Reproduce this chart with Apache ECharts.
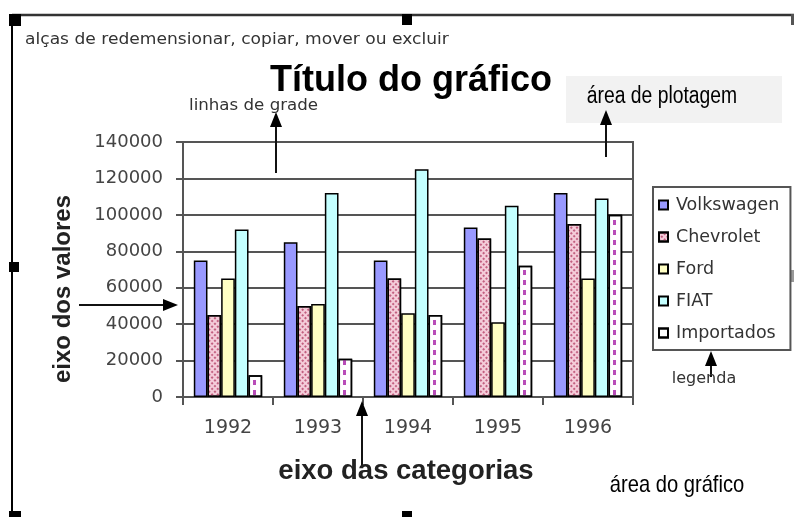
<!DOCTYPE html>
<html><head><meta charset="utf-8">
<script src="https://cdn.jsdelivr.net/npm/echarts@6/dist/echarts.min.js"></script>
<style>html,body{margin:0;padding:0;background:#fff}#c{width:794px;height:517px}</style>
</head><body><div id="c"></div>
<script>
const categories = ['1992', '1993', '1994', '1995', '1996'];
const seriesNames = ['Volkswagen', 'Chevrolet', 'Ford', 'FIAT', 'Importados'];
const volkswagen = [75000, 85000, 75000, 93000, 112000];
const chevrolet = [45000, 50000, 65000, 87000, 95000];
const ford = [65000, 51000, 46000, 41000, 65000];
const fiat = [92000, 112000, 125000, 105000, 109000];
const importados = [12000, 21000, 45000, 72000, 100000];
const yMin = 0, yMax = 140000, yInterval = 20000;

const chart = echarts.init(document.getElementById('c'), null, {renderer: 'canvas'});
const SMALL = '"DejaVu Sans", sans-serif';
const ARIAL = '"Liberation Sans", Arial, sans-serif';

function upArrow(x, tip, bottom) {
  return [
    {type: 'line', z: 5, shape: {x1: x, y1: tip + 10, x2: x, y2: bottom}, style: {stroke: '#111', lineWidth: 2}},
    {type: 'polygon', z: 5, shape: {points: [[x, tip], [x - 6, tip + 15], [x + 6, tip + 15]]}, style: {fill: '#000'}}
  ];
}
function rightArrow(y, from, tip) {
  return [
    {type: 'line', z: 5, shape: {x1: from, y1: y, x2: tip - 10, y2: y}, style: {stroke: '#111', lineWidth: 2}},
    {type: 'polygon', z: 5, shape: {points: [[tip, y], [tip - 15, y - 6], [tip - 15, y + 6]]}, style: {fill: '#000'}}
  ];
}
function txt(text, x, y, font, align, fill, opts) {
  opts = opts || {};
  return {type: 'text', x: x, y: y, rotation: opts.rotation || 0, scaleX: opts.scaleX || 1, z: 10,
    style: {text: text, font: font, fill: fill || '#222', align: align || 'left', verticalAlign: 'middle'}};
}

const barBase = {type: 'bar', barGap: '0%', barCategoryGap: '24%'};
const border = {borderColor: '#000', borderWidth: 1.5};

const option = {
  animation: false,
  backgroundColor: '#fff',
  grid: {left: 183, right: 161, top: 142, bottom: 120, show: true, borderColor: '#555', borderWidth: 2, outerBoundsMode: 'none', containLabel: false},
  legend: {
    orient: 'vertical', left: 653, top: 187, itemWidth: 9, itemHeight: 9, itemGap: 14,
    padding: [9, 11, 8, 5], borderColor: '#555', borderWidth: 2, icon: 'rect',
    data: seriesNames,
    textStyle: {fontFamily: SMALL, fontSize: 17.5, color: '#333', lineHeight: 18, padding: [0, 0, 0, 3]}
  },
  xAxis: {
    type: 'category', data: categories,
    axisLine: {lineStyle: {color: '#555', width: 2}},
    axisTick: {show: true, length: 8, lineStyle: {color: '#555', width: 2}},
    axisLabel: {margin: 22, fontFamily: SMALL, fontSize: 19, color: '#444'}
  },
  yAxis: {
    type: 'value', min: yMin, max: yMax, interval: yInterval,
    axisLine: {show: true, lineStyle: {color: '#555', width: 2}},
    axisTick: {show: true, length: 7, lineStyle: {color: '#555', width: 2}},
    splitLine: {show: true, lineStyle: {color: '#555', width: 2}},
    axisLabel: {margin: 20, fontFamily: SMALL, fontSize: 18, color: '#444', formatter: function (v) { return String(v); }}
  },
  series: [
    Object.assign({}, barBase, {name: seriesNames[0], data: volkswagen, itemStyle: Object.assign({color: '#9999FF'}, border)}),
    Object.assign({}, barBase, {name: seriesNames[1], data: chevrolet, itemStyle: Object.assign({color: '#F4CCD9',
      decal: {symbol: 'rect', symbolSize: 1, dashArrayX: [2, 2], dashArrayY: [2, 2], color: '#C25F80', rotation: Math.PI / 4}}, border)}),
    Object.assign({}, barBase, {name: seriesNames[2], data: ford, itemStyle: Object.assign({color: '#FFFFC4'}, border)}),
    Object.assign({}, barBase, {name: seriesNames[3], data: fiat, itemStyle: Object.assign({color: '#C4FFFF'}, border)}),
    Object.assign({}, barBase, {name: seriesNames[4], data: importados, itemStyle: Object.assign({color: '#FFFFFF',
      decal: {symbol: 'rect', symbolSize: 1, dashArrayX: [[0, 73, 3, 14]], dashArrayY: [5, 5], color: '#B84CB8'}}, border)})
  ],
  graphic: [].concat(
    [
      {type: 'rect', shape: {x: 566, y: 76, width: 216, height: 47}, style: {fill: '#F2F2F2'}, z: 1},
      {type: 'line', shape: {x1: 12, y1: 14, x2: 12, y2: 517}, style: {stroke: '#000', lineWidth: 2}},
      {type: 'line', shape: {x1: 12, y1: 15, x2: 794, y2: 15}, style: {stroke: '#333', lineWidth: 2.5}},
      {type: 'rect', shape: {x: 9, y: 14, width: 12, height: 12}, style: {fill: '#000'}},
      {type: 'rect', shape: {x: 402, y: 14, width: 10, height: 11}, style: {fill: '#000'}},
      {type: 'rect', shape: {x: 9, y: 262, width: 10, height: 10}, style: {fill: '#000'}},
      {type: 'rect', shape: {x: 9, y: 511, width: 12, height: 6}, style: {fill: '#000'}},
      {type: 'rect', shape: {x: 402, y: 511, width: 10, height: 6}, style: {fill: '#000'}},
      {type: 'rect', shape: {x: 791, y: 14, width: 3, height: 11}, style: {fill: '#555'}},
      {type: 'rect', shape: {x: 791, y: 270, width: 3, height: 12}, style: {fill: '#999'}}
    ],
    upArrow(276, 112, 173),
    upArrow(606, 110, 157),
    rightArrow(305, 79, 178),
    upArrow(362, 401, 466),
    upArrow(711, 351, 377),
    [
      txt('alças de redemensionar, copiar, mover ou excluir', 25, 40, '15px ' + SMALL, 'left', '#333', {scaleX: 1.14}),
      txt('Título do gráfico', 411, 81, 'bold 36px ' + ARIAL, 'center', '#000'),
      txt('linhas de grade', 189, 106, '15px ' + SMALL, 'left', '#333', {scaleX: 1.11}),
      txt('área de plotagem', 662, 97, '23px ' + ARIAL, 'center', '#000', {scaleX: 0.84}),
      txt('eixo dos valores', 63, 289, 'bold 24px ' + ARIAL, 'center', '#222', {rotation: Math.PI / 2}),
      txt('eixo das categorias', 406, 471, 'bold 27.5px ' + ARIAL, 'center', '#222'),
      txt('área do gráfico', 677, 485, '24px ' + ARIAL, 'center', '#000', {scaleX: 0.84}),
      txt('legenda', 704, 379, '16px ' + SMALL, 'center', '#333')
    ]
  )
};
chart.setOption(option);
</script>
</body></html>
